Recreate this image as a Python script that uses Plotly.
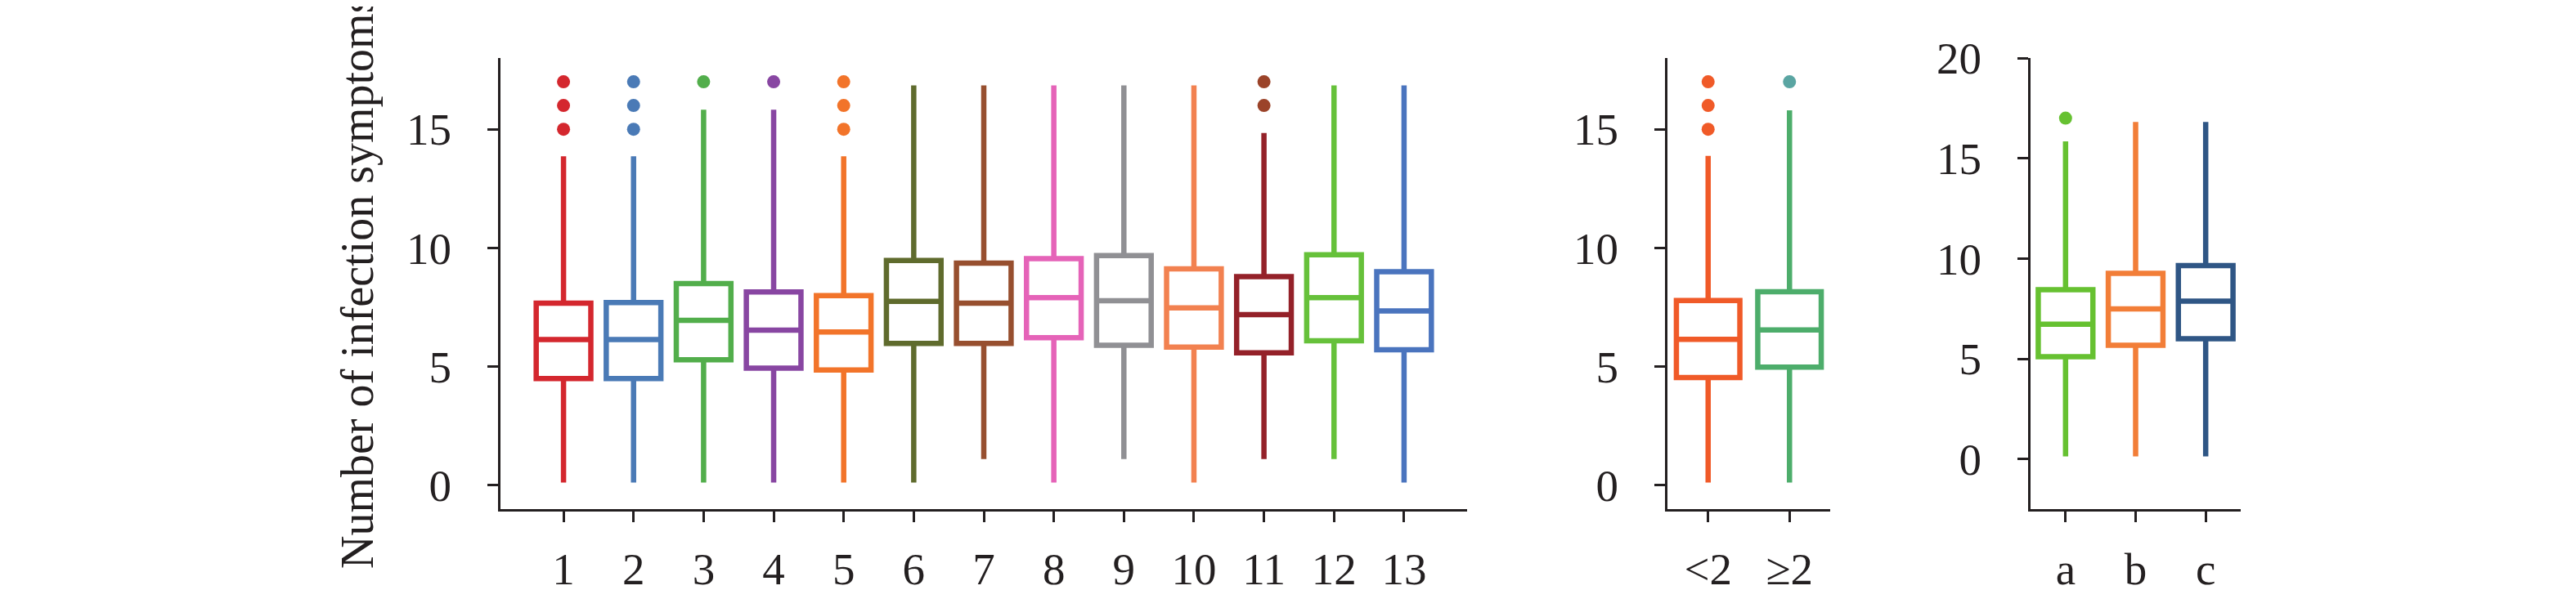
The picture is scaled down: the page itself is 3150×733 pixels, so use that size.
import plotly.graph_objects as go

# ---------------- data ----------------
# Panel 1: groups 1..13
cats1 = ["1", "2", "3", "4", "5", "6", "7", "8", "9", "10", "11", "12", "13"]
q1_1 = [4.50, 4.50, 5.29, 4.94, 4.86, 5.98, 5.98, 6.22, 5.90, 5.82, 5.58, 6.09, 5.71]
med_1 = [6.14, 6.14, 6.95, 6.54, 6.46, 7.75, 7.67, 7.91, 7.78, 7.48, 7.19, 7.91, 7.35]
q3_1 = [7.67, 7.70, 8.50, 8.15, 7.99, 9.47, 9.36, 9.55, 9.68, 9.12, 8.79, 9.71, 9.00]
low_1 = [0.12, 0.12, 0.12, 0.12, 0.12, 0.12, 1.11, 0.12, 1.11, 0.12, 1.11, 1.11, 0.12]
up_1 = [13.86, 13.86, 15.82, 15.82, 13.86, 16.85, 16.85, 16.85, 16.85, 16.85, 14.84, 16.85, 16.85]
out_1 = [[15, 16, 17], [15, 16, 17], [17], [17], [15, 16, 17], [], [], [], [], [], [16, 17], [], []]
col_1 = ["#D4272E", "#4A7AB6", "#52AE4B", "#8846A2", "#F2742A", "#5F6B2D", "#974F2F",
         "#E563B8", "#909094", "#F28150", "#942129", "#66C13A", "#4A74BE"]
outcol_1 = ["#D4272E", "#4A7AB6", "#52AE4B", "#8846A2", "#F2742A", "#5F6B2D", "#974F2F",
            "#E563B8", "#909094", "#F28150", "#9B4329", "#66C13A", "#4A74BE"]

# Panel 2: <2 vs >=2
cats2 = ["<2", "≥2"]
q1_2 = [4.54, 4.98]
med_2 = [6.15, 6.55]
q3_2 = [7.79, 8.16]
low_2 = [0.12, 0.12]
up_2 = [13.88, 15.80]
out_2 = [[15, 16, 17], [17]]
col_2 = ["#F05A28", "#4DAD6B"]
outcol_2 = ["#F05A28", "#5AA5A2"]

# Panel 3: a, b, c
cats3 = ["a", "b", "c"]
q1_3 = [5.10, 5.67, 6.00]
med_3 = [6.72, 7.49, 7.87]
q3_3 = [8.44, 9.26, 9.65]
low_3 = [0.13, 0.13, 0.13]
up_3 = [15.84, 16.81, 16.81]
out_3 = [[17], [], []]
col_3 = ["#66C131", "#F27E38", "#2F5685"]
outcol_3 = ["#66C131", "#F27E38", "#2F5685"]

y_title = "Number of infection symptoms"

# ---------------- figure ----------------
W, H = 3150, 733
OFF = 8  # page body margin compensation (px)
INK = "#231F20"
FONT = "Liberation Serif, Times New Roman, serif"

fig = go.Figure()


def add_panel(cats, q1, med, q3, low, up, outs, cols, ocols, xa, ya):
    for i, c in enumerate(cats):
        fig.add_trace(go.Box(
            x=[c], q1=[q1[i]], median=[med[i]], q3=[q3[i]],
            lowerfence=[low[i]], upperfence=[up[i]],
            boxpoints=False, width=0.78, whiskerwidth=0,
            line=dict(color=cols[i], width=6.5), fillcolor="rgba(255,255,255,0)",
            xaxis=xa, yaxis=ya, showlegend=False, hoverinfo="skip",
        ))
        if outs[i]:
            fig.add_trace(go.Scatter(
                x=[c] * len(outs[i]), y=outs[i], mode="markers",
                marker=dict(color=ocols[i], size=16, line=dict(width=0)),
                xaxis=xa, yaxis=ya, showlegend=False, hoverinfo="skip",
            ))


add_panel(cats1, q1_1, med_1, q3_1, low_1, up_1, out_1, col_1, outcol_1, "x", "y")
add_panel(cats2, q1_2, med_2, q3_2, low_2, up_2, out_2, col_2, outcol_2, "x2", "y2")
add_panel(cats3, q1_3, med_3, q3_3, low_3, up_3, out_3, col_3, outcol_3, "x3", "y3")


def xd(a, b):
    return [(a - OFF) / W, (b - OFF) / W]


ydom = [1 - (623 - OFF) / H, 1 - (71 - OFF) / H]

base_ax = dict(showline=True, linewidth=3, linecolor=INK, ticks="outside",
               ticklen=13, tickwidth=3, tickcolor=INK, showgrid=False, zeroline=False,
               tickfont=dict(family=FONT, size=55, color=INK), fixedrange=True,
               automargin=False)
x_ax = dict(base_ax, ticklabelstandoff=10)
y_ax = dict(base_ax, ticklabelstandoff=33)

fig.update_layout(
    width=W, height=H,
    margin=dict(l=0, r=0, t=0, b=0, pad=0, autoexpand=False),
    paper_bgcolor="white", plot_bgcolor="white",
    boxmode="overlay",
    font=dict(family=FONT, color=INK),
    xaxis=dict(domain=xd(612, 1794), type="category", categoryorder="array",
               categoryarray=cats1, range=[-0.9, 12.9], anchor="y", **x_ax),
    yaxis=dict(domain=ydom, range=[-1, 18], tickvals=[0, 5, 10, 15], anchor="x", **y_ax),
    xaxis2=dict(domain=xd(2039, 2238), type="category", categoryorder="array",
                categoryarray=cats2, range=[-0.5, 1.5], anchor="y2", **x_ax),
    yaxis2=dict(domain=ydom, range=[-1, 18], tickvals=[0, 5, 10, 15], anchor="x2", **y_ax),
    xaxis3=dict(domain=xd(2483, 2740), type="category", categoryorder="array",
                categoryarray=cats3, range=[-0.5, 2.5], anchor="y3", **x_ax),
    yaxis3=dict(domain=ydom, range=[-2.5, 20], tickvals=[0, 5, 10, 15, 20], anchor="x3", **y_ax),
    annotations=[dict(
        text=y_title, textangle=-90, xref="paper", yref="paper",
        x=(437 - OFF) / W, y=1 - (346 - OFF) / H, xanchor="center", yanchor="middle",
        showarrow=False, font=dict(family=FONT, size=56, color=INK),
    )],
)

fig.write_html("out.html")
